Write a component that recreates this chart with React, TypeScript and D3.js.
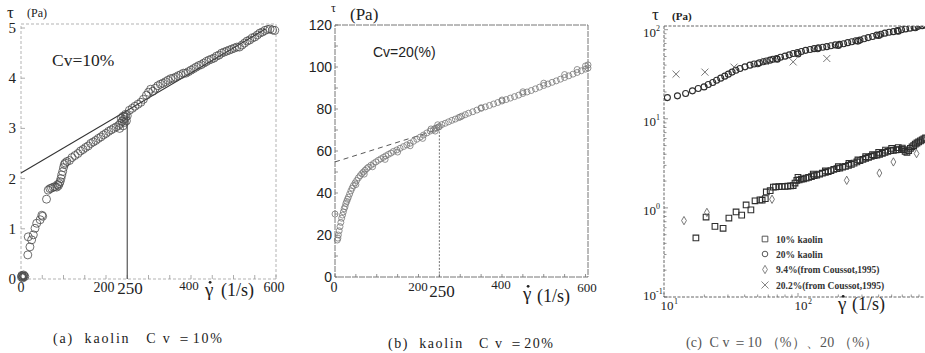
import React from "react";
import * as d3 from "d3";

// ---------- DATA ----------
// Panel (a): kaolin Cv=10%, [shear rate 1/s, stress Pa]
const aCircles: [number, number][] = [
  [1, 0.04], [3, 0.06], [5, 0.04], [7, 0.06], [9, 0.05], [4, 0.02], [6, 0.08], [2, 0.07],
  [16, 0.48], [21, 0.64], [17, 0.84], [25, 0.78], [29, 0.88], [33, 1.01], [37, 1.11], [45, 1.18],
  [49, 1.27], [51, 1.25], [60, 1.59],
  [64, 1.77], [68, 1.8], [72, 1.81], [76, 1.83], [80, 1.84], [84, 1.83], [88, 1.86], [86, 1.88],
  [90, 1.9], [92, 1.94], [94, 2.0], [96, 2.07], [98, 2.14], [100, 2.22], [102, 2.28], [104, 2.31],
  [108, 2.34], [114, 2.36], [120, 2.42], [127, 2.46], [134, 2.5], [140, 2.55], [146, 2.58],
  [152, 2.62], [158, 2.65], [164, 2.7], [170, 2.73], [176, 2.76], [182, 2.8], [188, 2.83],
  [194, 2.87], [200, 2.9], [206, 2.94], [212, 2.97], [218, 3.0], [224, 3.03], [230, 3.06],
  [234, 3.1], [238, 3.14], [240, 3.05], [242, 3.18], [244, 3.12], [246, 3.22], [248, 3.15],
  [250, 3.25], [246, 3.28], [236, 3.2], [232, 3.0], [240, 3.24],
  [255, 3.36], [262, 3.4], [268, 3.44], [275, 3.48], [282, 3.52], [288, 3.58], [295, 3.66],
  [300, 3.72], [305, 3.78], [310, 3.74], [316, 3.8], [322, 3.85], [328, 3.88], [334, 3.9],
  [340, 3.93], [346, 3.96], [352, 3.99], [358, 4.0], [364, 4.02], [370, 4.05], [376, 4.07],
  [382, 4.1], [388, 4.1], [394, 4.13], [400, 4.16], [406, 4.19], [412, 4.22], [418, 4.25],
  [424, 4.27], [430, 4.3], [436, 4.33], [442, 4.36], [448, 4.38], [454, 4.4], [460, 4.44],
  [466, 4.46], [472, 4.5], [478, 4.52], [484, 4.54], [490, 4.56], [496, 4.58], [502, 4.6],
  [508, 4.62], [514, 4.62], [520, 4.66], [526, 4.7], [532, 4.74], [538, 4.76], [544, 4.8],
  [550, 4.82], [556, 4.86], [562, 4.9], [568, 4.92], [574, 4.95], [580, 4.97], [586, 4.98],
  [592, 4.96], [597, 4.95],
];
const aFit: [number, number][] = [[0, 2.11], [575, 4.98]];
const aYTicks = [0, 1, 2, 3, 4, 5];

// Panel (b): kaolin Cv=20%
const bCircles: [number, number][] = [
  [0, 30],
  [5.5, 17.6], [7, 18.5], [8, 20], [10, 22], [12, 24], [14, 26], [16, 28], [18, 29.5], [20, 31],
  [22, 32.5], [24, 33.5], [26, 35], [28, 36], [30, 37], [32, 38], [35, 39.5], [38, 41], [41, 42.3],
  [44, 43.5], [48, 44.8], [52, 46], [56, 47.2], [60, 48.2], [64, 49.2], [68, 50], [72, 50.8],
  [76, 51.6], [80, 52.3], [86, 53.2], [92, 54], [98, 54.8], [104, 55.6], [110, 56.3], [116, 57],
  [122, 57.7], [128, 58.4], [134, 59], [140, 59.8], [148, 60.5], [156, 61.3], [164, 62.1],
  [172, 62.9], [180, 63.7], [188, 64.6], [196, 65.6], [204, 66.6], [212, 67.6], [220, 68.6],
  [228, 69.5], [236, 70.2], [240, 70.8], [244, 71], [248, 71.4], [250, 71.6],
  [50, 44], [70, 49], [90, 52.5], [120, 56], [150, 59.5], [180, 62.5], [210, 66], [240, 69.5],
  [230, 70.5], [246, 72.5],
  [256, 72.6], [264, 73.2], [272, 73.9], [280, 74.6], [288, 75.2], [296, 75.9], [304, 76.6],
  [312, 77.3], [320, 78], [330, 78.7], [340, 79.5], [350, 80.3], [360, 81], [370, 81.7],
  [380, 82.4], [390, 83.1], [400, 83.8], [410, 84.5], [420, 85.2], [430, 85.9], [440, 86.6],
  [450, 87.4], [460, 88.1], [470, 88.8], [480, 89.6], [490, 90.4], [500, 91.2], [510, 91.9],
  [520, 92.7], [530, 93.4], [540, 94.2], [550, 95], [560, 95.8], [570, 96.6], [580, 97.4],
  [590, 98.2], [600, 99], [606, 99.5],
  [300, 76.2], [350, 80.6], [400, 84.3], [450, 88.2], [500, 92.3], [550, 96.4], [580, 98.8],
  [600, 100.5], [606, 101],
];
const bFit: [number, number][] = [[0, 54.8], [240, 69.8]];
const bYTicks = [0, 20, 40, 60, 80, 100, 120];

// Panel (c): log-log comparison
const c10Kaolin: [number, number][] = [
  [17.3, 0.46], [20.6, 0.79], [24, 0.62], [27.6, 0.59], [30.5, 0.77], [34.5, 0.9], [38, 0.83],
  [41, 1.08], [44.5, 0.95], [47.8, 1.2], [52, 1.23], [54, 1.22], [57, 1.27], [58, 1.51],
  [62, 1.56], [65.5, 1.71],
  [68, 1.72], [72, 1.73], [76, 1.74], [80, 1.74], [84, 1.75], [88, 1.77], [92, 1.78], [95, 1.9],
  [98, 2.04], [102, 2.06], [106, 2.1], [110, 2.12], [115, 2.16], [120, 2.2], [126, 2.25],
  [132, 2.3], [138, 2.34], [145, 2.4], [152, 2.45], [160, 2.5], [168, 2.56], [176, 2.62],
  [185, 2.7], [195, 2.76], [205, 2.8], [215, 2.86], [226, 2.92], [238, 3.0], [250, 3.08],
  [262, 3.18], [275, 3.28], [290, 3.4], [305, 3.5], [320, 3.6], [336, 3.7], [352, 3.78],
  [370, 3.86], [388, 3.92], [406, 4.0], [426, 4.1], [446, 4.2], [468, 4.3], [490, 4.38],
  [515, 4.43], [540, 4.48], [566, 4.5], [592, 4.52], [612, 4.5], [630, 4.3], [650, 4.2],
  [670, 4.4], [690, 4.65], [710, 4.85], [730, 5.0], [750, 5.2], [772, 5.35], [795, 5.5],
  [820, 5.65], [845, 5.8], [870, 5.95], [895, 6.1],
  [100, 2.2], [130, 2.4], [160, 2.6], [200, 2.9], [240, 3.15], [280, 3.45], [320, 3.75],
  [360, 3.95], [400, 4.2], [450, 4.45], [500, 4.65], [560, 4.75], [600, 4.7],
];
const c20Kaolin: [number, number][] = [
  [10.6, 17.3], [12.6, 18.1], [14.5, 19.2], [16.3, 20.6], [18, 21.9], [19.9, 22.8], [21.4, 24.3],
  [23.1, 25.5], [24.7, 27.1], [26.5, 28.6], [28.4, 30.1], [30.2, 31.7], [32.2, 33.4],
  [34.4, 35.1], [36.9, 36.7], [40.2, 38.3], [43.8, 40], [47, 41.2], [51.5, 42.5], [55, 43.6],
  [58, 44.5], [61.8, 45.5], [65, 46.5], [69.3, 47.5], [74, 49], [80, 50.5], [86, 52.2], [92, 54],
  [99, 55.5], [106, 57], [114, 58.6], [123, 60], [132, 61.3], [142, 62.5], [153, 63.5],
  [164, 64.5], [176, 66], [190, 67.5], [204, 68.5], [219, 69.5], [235, 71.5], [252, 73.2],
  [270, 75], [290, 76.4], [311, 79], [334, 81.5], [360, 84], [387, 86.9], [415, 89],
  [445, 91.5], [478, 93.5], [515, 95], [552, 97.5], [592, 100], [636, 102], [685, 104],
  [735, 106.5], [788, 109], [845, 111], [890, 113],
  [50, 41.5], [70, 46.5], [100, 53.5], [140, 61], [200, 66.5], [280, 74.5], [400, 86],
  [560, 96], [750, 105],
];
const cCoussot94: [number, number][] = [
  [14.1, 0.72], [20.9, 0.89], [64, 1.25], [231, 2.04], [405, 2.46], [515, 3.28], [767, 4.07],
];
const cCoussot202: [number, number][] = [
  [12.3, 31.7], [20.2, 33.4], [33.3, 38], [57, 44], [92, 43.5], [164, 47.5],
];
const cLegend = [
  "10% kaolin",
  "20% kaolin",
  "9.4%(from Coussot,1995)",
  "20.2%(from Coussot,1995)",
];
const cYTicks = [0.1, 1, 10, 100];
const cYExp = ["-1", "0", "1", "2"];
const cXTicks = [10, 100];
const cXExp = ["1", "2"];

// ---------- SCALES ----------
const ax = d3.scaleLinear().domain([0, 600]).range([21, 276]);
const ay = d3.scaleLinear().domain([0, 5]).range([279, 28]);
const bx = d3.scaleLinear().domain([0, 606]).range([335, 588]);
const by = d3.scaleLinear().domain([0, 120]).range([277, 25]);
const cx = d3.scaleLog().domain([10, 1000]).range([664, 932]);
const cy = d3.scaleLog().domain([0.1, 110]).range([297, 26]);

const serif = "'Liberation Serif', 'DejaVu Serif', serif";
const sans = "'Liberation Sans', Arial, sans-serif";
const ink = "#222";

const sqPath = d3.symbol().type(d3.symbolSquare).size(32)() as string;
const diaPath = d3.symbol().type(d3.symbolDiamond).size(20)() as string;
const xPath = d3.symbol().type(d3.symbolX).size(34)() as string;

function GammaDot({ x, y, size }: { x: number; y: number; size: number }) {
  return (
    <g>
      <text x={x} y={y} fontFamily={serif} fontSize={size} fill={ink}>γ</text>
      <circle cx={x + size * 0.27} cy={y - size * 0.72} r={1.4} fill={ink} />
    </g>
  );
}

export default function App() {
  const aLine = d3.line<[number, number]>().x((d) => ax(d[0])).y((d) => ay(d[1]));
  const bLine = d3.line<[number, number]>().x((d) => bx(d[0])).y((d) => by(d[1]));

  const aXMinor = d3.range(0, 601, 50);
  const bXMinor = d3.range(0, 601, 50);
  const bYMinor = d3.range(0, 121, 10);
  const cYMinor: number[] = [];
  [0.1, 1, 10].forEach((dec) => d3.range(1, 10).forEach((k) => cYMinor.push(dec * k)));
  cYMinor.push(100);
  const cXMinor: number[] = [];
  [10, 100].forEach((dec) => d3.range(1, 10).forEach((k) => cXMinor.push(dec * k)));

  return (
    <svg width={925} height={353} style={{ position: "absolute", left: 0, top: 0, background: "#fff" }}>
      <defs>
        <clipPath id="clipC">
          <rect x={664} y={26} width={261} height={271} />
        </clipPath>
      </defs>

      {/* ================= PANEL A ================= */}
      <g>
        <rect x={21} y={24} width={255} height={255} fill="none" stroke="#aaa" strokeWidth={0.9} strokeDasharray="3 2" />
        {aYTicks.map((t) => (
          <line key={"ayt" + t} x1={21} x2={25} y1={ay(t)} y2={ay(t)} stroke="#999" strokeWidth={0.8} />
        ))}
        {aXMinor.map((t) => (
          <line key={"axt" + t} x1={ax(t)} x2={ax(t)} y1={279} y2={275} stroke="#999" strokeWidth={0.8} />
        ))}
        <line x1={ax(250)} x2={ax(250)} y1={ay(0)} y2={ay(3.3)} stroke="#555" strokeWidth={1.2} />
        <path d={aLine(aFit) as string} fill="none" stroke="#333" strokeWidth={1.1} />
        {aCircles.map((d, i) => (
          <circle key={"ac" + i} cx={ax(d[0])} cy={ay(d[1])} r={4} fill="none" stroke="#4a4a4a" strokeWidth={0.8} />
        ))}
        {aYTicks.map((t) => (
          <text key={"ayl" + t} x={16} y={ay(t) + 5} textAnchor="end" fontFamily={serif} fontSize={15} fill={ink}>{t}</text>
        ))}
        <text x={7} y={18} fontFamily={serif} fontSize={17} fill={ink}>τ</text>
        <text x={27} y={17} fontFamily={serif} fontSize={12} fill={ink}>(Pa)</text>
        <text x={52} y={66} fontFamily={serif} fontSize={17.5} fill={ink}>Cv=10%</text>
        <text x={ax(0)} y={292} textAnchor="middle" fontFamily={serif} fontSize={14} fill={ink}>0</text>
        <text x={104} y={292} textAnchor="middle" fontFamily={serif} fontSize={14} fill={ink}>200</text>
        <text x={130} y={294} textAnchor="middle" fontFamily={serif} fontSize={17} fill={ink}>250</text>
        <text x={189} y={290} textAnchor="middle" fontFamily={serif} fontSize={13} fill={ink}>400</text>
        <text x={274} y={292} textAnchor="middle" fontFamily={serif} fontSize={14} fill={ink}>600</text>
        <GammaDot x={205} y={296} size={19} />
        <text x={221} y={296} fontFamily={serif} fontSize={18} fill={ink}>(1/s)</text>
        <text x={53} y={343} fontFamily={serif} fontSize={14} fill={ink} textLength={169} lengthAdjust="spacing" style={{ whiteSpace: "pre" }}>
          {"(a)  kaolin   C v ＝10%"}
        </text>
      </g>

      {/* ================= PANEL B ================= */}
      <g>
        <rect x={335} y={25} width={253} height={252} fill="none" stroke="#666" strokeWidth={0.9} strokeDasharray="6 1" />
        {bYMinor.map((t) => (
          <line key={"byt" + t} x1={335} x2={338} y1={by(t)} y2={by(t)} stroke="#777" strokeWidth={0.8} />
        ))}
        {bXMinor.map((t) => (
          <line key={"bxt" + t} x1={bx(t)} x2={bx(t)} y1={277} y2={274} stroke="#777" strokeWidth={0.8} />
        ))}
        <line x1={bx(250)} x2={bx(250)} y1={by(0)} y2={by(72)} stroke="#666" strokeWidth={0.9} strokeDasharray="2 1.5" />
        <path d={bLine(bFit) as string} fill="none" stroke="#444" strokeWidth={0.9} strokeDasharray="5 4" />
        {bCircles.map((d, i) => (
          <circle key={"bc" + i} cx={bx(d[0])} cy={by(d[1])} r={3} fill="none" stroke="#777" strokeWidth={0.8} />
        ))}
        {bYTicks.map((t) => (
          <text key={"byl" + t} x={332} y={by(t) + 5} textAnchor="end" fontFamily={sans} fontSize={14} fill={ink}>{t}</text>
        ))}
        <text x={331} y={12} fontFamily={serif} fontSize={12} fill={ink}>τ</text>
        <text x={350} y={20} fontFamily={serif} fontSize={17} fill={ink}>(Pa)</text>
        <text x={373} y={57} fontFamily={sans} fontSize={14} fill={ink}>Cv=20(%)</text>
        <text x={bx(0) - 1} y={292} textAnchor="middle" fontFamily={serif} fontSize={14} fill={ink}>0</text>
        <text x={418} y={291} textAnchor="middle" fontFamily={serif} fontSize={13} fill={ink}>200</text>
        <text x={442} y={297} textAnchor="middle" fontFamily={serif} fontSize={17} fill={ink}>250</text>
        <text x={501} y={289} textAnchor="middle" fontFamily={serif} fontSize={13} fill={ink}>400</text>
        <GammaDot x={523} y={300} size={19} />
        <text x={537} y={302} fontFamily={serif} fontSize={18} fill={ink}>(1/s)</text>
        <text x={587} y={292} textAnchor="middle" fontFamily={serif} fontSize={13} fill={ink}>600</text>
        <text x={388} y={348} fontFamily={serif} fontSize={14} fill={ink} textLength={165} lengthAdjust="spacing" style={{ whiteSpace: "pre" }}>
          {"(b)  kaolin   C v ＝20%"}
        </text>
      </g>

      {/* ================= PANEL C ================= */}
      <g>
        <line x1={664} x2={664} y1={26} y2={297} stroke="#555" strokeWidth={0.9} strokeDasharray="3 1.5" />
        <line x1={664} x2={925} y1={26} y2={26} stroke="#555" strokeWidth={0.9} strokeDasharray="3 1.5" />
        <line x1={664} x2={925} y1={297} y2={297} stroke="#555" strokeWidth={0.9} strokeDasharray="3 1.5" />
        {cYMinor.map((t, i) => (
          <line key={"cyt" + i} x1={664} x2={cYTicks.includes(t) ? 668 : 666.5} y1={cy(t)} y2={cy(t)} stroke="#666" strokeWidth={0.7} />
        ))}
        {cXMinor.map((t, i) => (
          <line key={"cxt" + i} x1={cx(t)} x2={cx(t)} y1={297} y2={cXTicks.includes(t) ? 293 : 294.5} stroke="#666" strokeWidth={0.7} />
        ))}
        <g clipPath="url(#clipC)">
          {c20Kaolin.map((d, i) => (
            <circle key={"c20" + i} cx={cx(d[0])} cy={cy(d[1])} r={3} fill="none" stroke="#2e2e2e" strokeWidth={1.1} />
          ))}
          {c10Kaolin.map((d, i) => (
            <path key={"c10" + i} d={sqPath} transform={`translate(${cx(d[0])},${cy(d[1])})`} fill="none" stroke="#2e2e2e" strokeWidth={1.1} />
          ))}
          {cCoussot94.map((d, i) => (
            <path key={"c94" + i} d={diaPath} transform={`translate(${cx(d[0])},${cy(d[1])})`} fill="none" stroke="#555" strokeWidth={0.8} />
          ))}
          {cCoussot202.map((d, i) => (
            <path key={"c202" + i} d={xPath} transform={`translate(${cx(d[0])},${cy(d[1])})`} fill="none" stroke="#555" strokeWidth={0.8} />
          ))}
        </g>
        {cYTicks.map((t, i) => (
          <text key={"cyl" + i} x={656} y={cy(t) + (i === 0 ? 3 : 7)} textAnchor="end" fontFamily={serif} fontSize={13} fill={ink}>
            10
          </text>
        ))}
        {cYTicks.map((t, i) => (
          <text key={"cye" + i} x={656} y={cy(t) + (i === 0 ? -3 : 1.5)} fontFamily={serif} fontSize={8} fill={ink}>
            {cYExp[i]}
          </text>
        ))}
        {cXTicks.map((t, i) => (
          <g key={"cxl" + i}>
            <text x={cx(t) + 3} y={310} textAnchor="middle" fontFamily={serif} fontSize={13} fill={ink}>10</text>
            <text x={cx(t) + 10} y={304} fontFamily={serif} fontSize={8} fill={ink}>{cXExp[i]}</text>
          </g>
        ))}
        <text x={652} y={20} fontFamily={serif} fontSize={17} fill={ink}>τ</text>
        <text x={672} y={20} fontFamily={serif} fontSize={11} fontWeight="bold" fill={ink}>(Pa)</text>
        <GammaDot x={838} y={310} size={19} />
        <text x={852} y={310} fontFamily={serif} fontSize={18} fill={ink}>(1/s)</text>

        {/* legend */}
        {cLegend.map((lab, i) => {
          const ly = [239, 254, 269.5, 285][i];
          let sym;
          if (i === 0) sym = <path d={sqPath} transform={`translate(765,${ly})`} fill="none" stroke="#444" strokeWidth={0.9} />;
          else if (i === 1) sym = <circle cx={765} cy={ly} r={2.8} fill="none" stroke="#444" strokeWidth={0.9} />;
          else if (i === 2) sym = <path d={diaPath} transform={`translate(765,${ly})`} fill="none" stroke="#666" strokeWidth={0.8} />;
          else sym = <path d={xPath} transform={`translate(765,${ly})`} fill="none" stroke="#666" strokeWidth={0.8} />;
          return (
            <g key={"lg" + i}>
              {sym}
              <text x={776} y={ly + 3.5} fontFamily={serif} fontSize={9.5} fontWeight="bold" fill="#333">{lab}</text>
            </g>
          );
        })}

        <text x={686} y={347} fontFamily={serif} fontSize={14} fill="#555" textLength={192} lengthAdjust="spacing" style={{ whiteSpace: "pre" }}>
          {"(c)  C v ＝10 （%）、20 （%）"}
        </text>
      </g>
    </svg>
  );
}
